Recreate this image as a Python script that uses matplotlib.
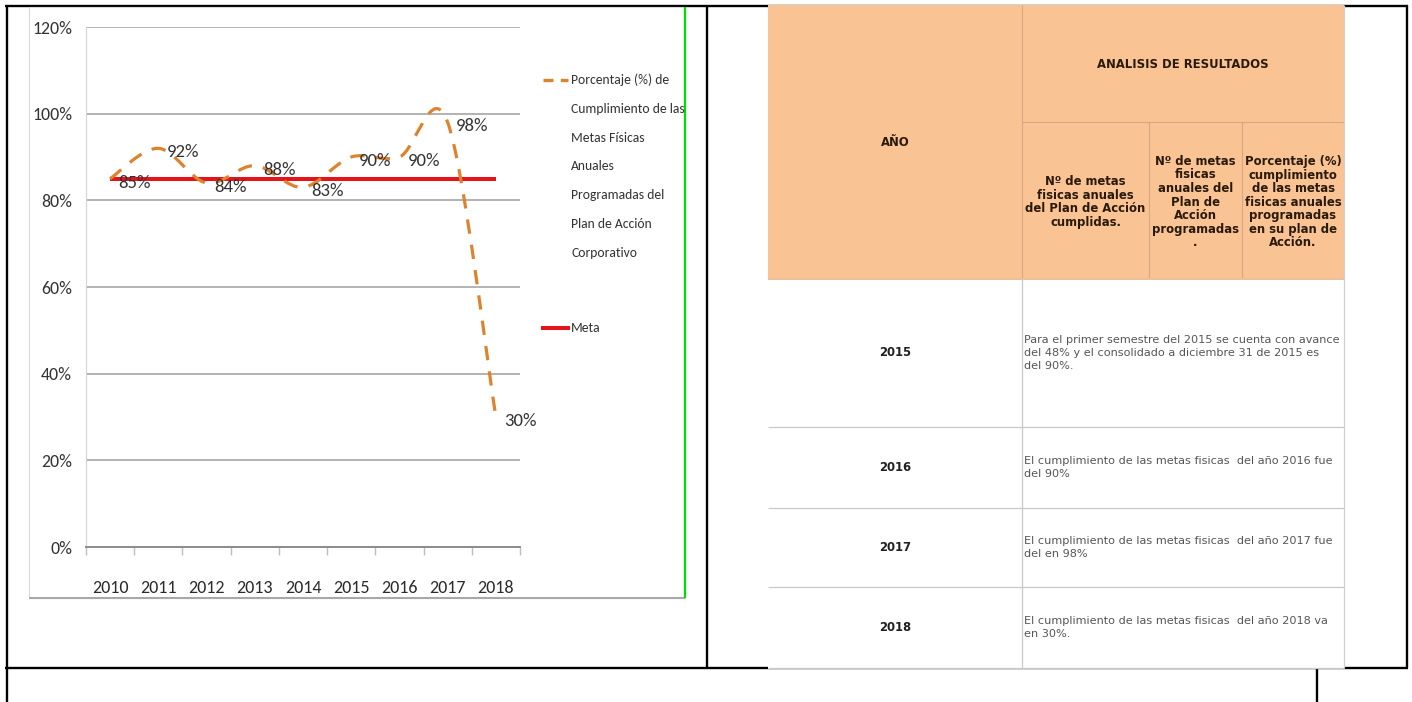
import matplotlib
matplotlib.use('Agg')
import matplotlib.pyplot as plt
from matplotlib.path import Path
from matplotlib.patches import PathPatch, Rectangle
from matplotlib.lines import Line2D
import numpy as np

# chart data
years = ['2010', '2011', '2012', '2013', '2014', '2015', '2016', '2017', '2018']
cumplimiento = [85, 92, 84, 88, 83, 90, 90, 98, 30]
meta = [85, 85, 85, 85, 85, 85, 85, 85, 85]
ytick_vals = [0, 20, 40, 60, 80, 100, 120]
serie_label = ['Porcentaje (%) de', 'Cumplimiento de las', 'Metas Físicas', 'Anuales',
               'Programadas del', 'Plan de Acción', 'Corporativo']
meta_label = 'Meta'

# table data
tabla_titulo = 'ANALISIS DE RESULTADOS'
tabla_col_anio = 'AÑO'
tabla_subcols = ['Nº de metas\nfisicas anuales\ndel Plan de Acción\ncumplidas.',
                 'Nº de metas\nfisicas\nanuales del\nPlan de\nAcción\nprogramadas\n.',
                 'Porcentaje (%)\ncumplimiento\nde las metas\nfisicas anuales\nprogramadas\nen su plan de\nAcción.']
tabla_anios = ['2015', '2016', '2017', '2018']
tabla_analisis = [
    'Para el primer semestre del 2015 se cuenta con avance\ndel 48% y el consolidado a diciembre 31 de 2015 es\ndel 90%.',
    'El cumplimiento de las metas fisicas  del año 2016 fue\ndel 90%',
    'El cumplimiento de las metas fisicas  del año 2017 fue\ndel en 98%',
    'El cumplimiento de las metas fisicas  del año 2018 va\nen 30%.',
]

W, H = 1412, 702
CHART_FONT = ['Carlito', 'DejaVu Sans']
ORANGE = '#DF822E'
RED = '#E5141B'
PEACH = '#F9C394'
TXT = '#333333'

fig = plt.figure(figsize=(W / 100, H / 100), dpi=100)
fig.patch.set_facecolor('white')

# page layer in pixel coordinates
bg = fig.add_axes([0, 0, 1, 1])
bg.set_xlim(0, W)
bg.set_ylim(H, 0)
bg.axis('off')

def hline(y, x0, x1, **kw):
    bg.plot([x0, x1], [y, y], solid_capstyle='butt', **kw)

def vline(x, y0, y1, **kw):
    bg.plot([x, x], [y0, y1], solid_capstyle='butt', **kw)

# document borders
blk = dict(color='black', lw=1.7, zorder=1)
hline(5.5, 5, 1408, **blk)
vline(6.5, 5, H, **blk)
vline(1406.5, 5, 668, **blk)
vline(707, 5, 668, **blk)
hline(668, 5, 1408, **blk)
vline(1317, 668, H, **blk)

# chart picture frame
bg.add_patch(Rectangle((29, 7), 656, 591, facecolor='white', edgecolor='#D8D8D8', lw=0.8, zorder=2))
hline(597.5, 29, 685, color='#A8A8A8', lw=1.5, zorder=3)
vline(685, 7, 598, color='#00DD00', lw=1.6, zorder=3)

# legend
bg.add_line(Line2D([543, 568], [80, 80], color=ORANGE, lw=2.4, dashes=(3, 2.2), zorder=4))
for i, s in enumerate(serie_label):
    bg.text(571, 80 + i * 28.8, s, ha='left', va='center', fontsize=9.8,
            family=CHART_FONT, color=TXT, zorder=4)
bg.add_line(Line2D([543, 568], [328, 328], color=RED, lw=2.9, zorder=4))
bg.text(571, 328, meta_label, ha='left', va='center', fontsize=9.8,
        family=CHART_FONT, color=TXT, zorder=4)

# table: header
tx0, tx1 = 768, 1344
c_anio, c_a, c_b = 1022, 1149, 1242
bg.add_patch(Rectangle((tx0, 5), tx1 - tx0, 273, facecolor=PEACH, edgecolor='none', zorder=5))
bg.add_patch(Rectangle((tx0, 278), tx1 - tx0, 391, facecolor='white', edgecolor='none', zorder=5))
tan = dict(color='#D7A982', lw=0.8, zorder=6)
vline(c_anio, 5, 278, **tan)
hline(122, c_anio, tx1, **tan)
vline(c_a, 122, 278, **tan)
vline(c_b, 122, 278, **tan)
hline(279, tx0, tx1, color='#E8B488', lw=1.2, zorder=6)
hdr = dict(fontsize=8.4, fontweight='bold', color='#2A1A0C', zorder=7, family='DejaVu Sans')
bg.text((c_anio + tx1) / 2, 64, tabla_titulo, ha='center', va='center', **hdr)
bg.text((tx0 + c_anio) / 2, 143, tabla_col_anio, ha='center', va='center', **hdr)
for (a, b), s in zip([(c_anio, c_a), (c_a, c_b), (c_b, tx1)], tabla_subcols):
    bg.text((a + b) / 2, 202, s, ha='center', va='center', multialignment='center',
            linespacing=1.05, **hdr)

# table: body
row_edges = [279, 427, 508, 587, 668]
grey = dict(color='#C8C8C8', lw=0.9, zorder=6)
vline(c_anio, 279, 668, **grey)
vline(tx1, 5, 668, color='#D0D0D0', lw=0.9, zorder=6)
for y in row_edges[1:]:
    hline(y, tx0, tx1, **grey)
for i, (anio, txt) in enumerate(zip(tabla_anios, tabla_analisis)):
    yc = (row_edges[i] + row_edges[i + 1]) / 2
    bg.text((tx0 + c_anio) / 2, yc, anio, ha='center', va='center', fontsize=8.4,
            fontweight='bold', color='#202020', zorder=7)
    bg.text(c_anio + 2, yc, txt, ha='left', va='center', fontsize=8.1,
            color='#555555', linespacing=1.4, zorder=7)

# chart axes
ax = fig.add_axes([86 / W, (H - 547) / H, 434 / W, 520 / H])
ax.set_facecolor('none')
x = np.arange(len(years))
ax.set_xlim(-0.5, len(years) - 0.5)
ax.set_ylim(0, 120)

# smoothed dashed line (Bezier through the data points)
n = len(cumplimiento)
verts = [(x[0], cumplimiento[0])]
codes = [Path.MOVETO]
for i in range(n - 1):
    p_prev = cumplimiento[max(i - 1, 0)]
    p_next2 = cumplimiento[min(i + 2, n - 1)]
    xp = x[max(i - 1, 0)]
    xn = x[min(i + 2, n - 1)]
    c1 = (x[i] + (x[i + 1] - xp) / 6, cumplimiento[i] + (cumplimiento[i + 1] - p_prev) / 6)
    c2 = (x[i + 1] - (xn - x[i]) / 6, cumplimiento[i + 1] - (p_next2 - cumplimiento[i]) / 6)
    verts += [c1, c2, (x[i + 1], cumplimiento[i + 1])]
    codes += [Path.CURVE4] * 3
ax.add_patch(PathPatch(Path(verts, codes), facecolor='none', edgecolor=ORANGE, lw=2.3,
                       linestyle=(0, (4.5, 3.5)), zorder=4))
ax.plot(x, meta, color=RED, lw=2.9, zorder=3, solid_capstyle='butt')

for xi, v in zip(x, cumplimiento):
    ax.annotate(f'{v}%', xy=(xi, v), xytext=(8, -4), textcoords='offset pixels',
                ha='left', va='center', fontsize=13.5, family=CHART_FONT, color=TXT, zorder=5)

ax.set_yticks(ytick_vals)
ax.set_yticklabels([f'{v}%' for v in ytick_vals], family=CHART_FONT, fontsize=12.8, color=TXT)
ax.set_xticks(x)
ax.set_xticklabels(years, family=CHART_FONT, fontsize=13, color='#2A2A2A')
ax.set_xticks(np.arange(-0.5, len(years), 1), minor=True)
ax.tick_params(axis='y', length=0, pad=10)
ax.tick_params(axis='x', which='major', length=0, pad=24)
ax.tick_params(axis='x', which='minor', length=6, color='#BFBFBF', width=1)
ax.yaxis.grid(True, color='#A6A6A6', lw=1.2)
ax.set_axisbelow(True)
for s in ['top', 'right']:
    ax.spines[s].set_visible(False)
ax.spines['left'].set_color('#D4D4D4')
ax.spines['bottom'].set_color('#8C8C8C')
ax.spines['bottom'].set_linewidth(1.4)

fig.savefig('out.png', dpi=100)
